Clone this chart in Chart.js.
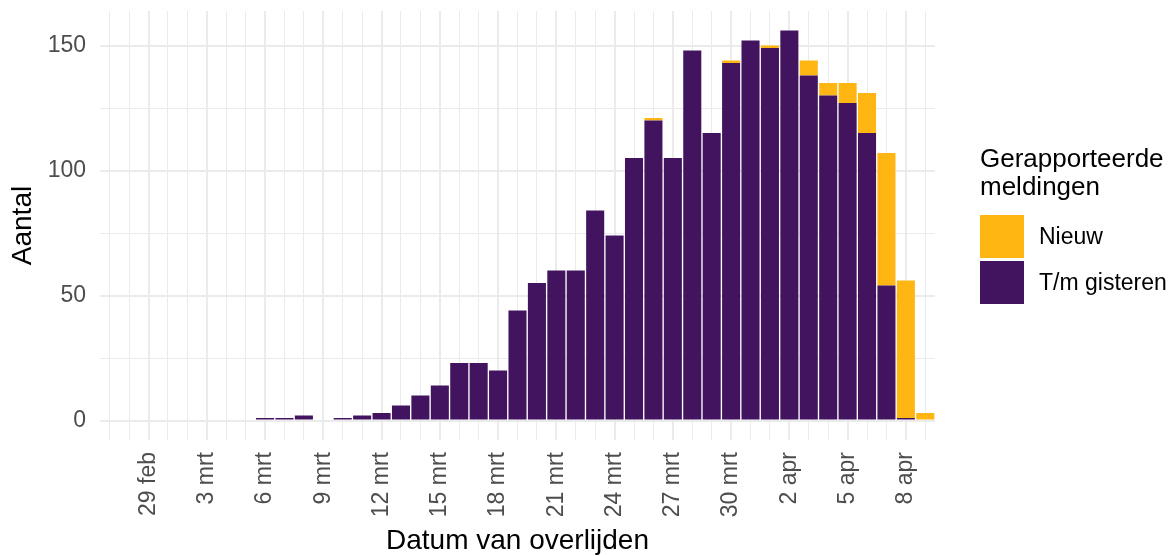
<!DOCTYPE html>
<html lang="nl">
<head>
<meta charset="utf-8">
<title>Overlijdens per dag</title>
<script src="https://cdn.jsdelivr.net/npm/chart.js@4"></script>
<style>
    body { margin: 0; background: #ffffff; }
    #wrap { position: relative; width: 1174px; height: 556px; font-family: "Liberation Sans", Arial, sans-serif; }
    #legend { position: absolute; left: 980px; top: 144px; color: #000000; }
    #legendTitle { font-size: 26px; line-height: 28px; }
    .legendRow { position: absolute; left: 0; width: 200px; height: 43px; display: flex; align-items: center; }
    .legendKey { width: 44px; height: 43px; margin-right: 15px; }
    .legendLabel { font-size: 23px; }
</style>
</head>
<body onload="handleOnLoad()">
<div id="wrap">
    <canvas id="chartCanvas" width="1174" height="556"></canvas>
    <div id="legend">
        <div id="legendTitle">Gerapporteerde<br>meldingen</div>
        <div class="legendRow" style="top: 71px;"><div class="legendKey" style="background: #ffb612;"></div><span class="legendLabel">Nieuw</span></div>
        <div class="legendRow" style="top: 117px;"><div class="legendKey" style="background: #42145f;"></div><span class="legendLabel">T/m gisteren</span></div>
    </div>
</div>
<script>
"use strict";

// Days from 27 feb to 9 apr 2020
const dates = [
    "27 feb", "28 feb", "29 feb", "1 mrt", "2 mrt", "3 mrt", "4 mrt", "5 mrt", "6 mrt", "7 mrt",
    "8 mrt", "9 mrt", "10 mrt", "11 mrt", "12 mrt", "13 mrt", "14 mrt", "15 mrt", "16 mrt", "17 mrt",
    "18 mrt", "19 mrt", "20 mrt", "21 mrt", "22 mrt", "23 mrt", "24 mrt", "25 mrt", "26 mrt", "27 mrt",
    "28 mrt", "29 mrt", "30 mrt", "31 mrt", "1 apr", "2 apr", "3 apr", "4 apr", "5 apr", "6 apr",
    "7 apr", "8 apr", "9 apr"
];

// Reported up to yesterday (bottom of the stack)
const tmGisteren = [
    0, 0, 0, 0, 0, 0, 0, 0, 1, 1,
    2, 0, 1, 2, 3, 6, 10, 14, 23, 23,
    20, 44, 55, 60, 60, 84, 74, 105, 120, 105,
    148, 115, 143, 152, 149, 156, 138, 130, 127, 115,
    54, 1, 0
];

// Newly reported today (top of the stack)
const nieuw = [
    0, 0, 0, 0, 0, 0, 0, 0, 0, 0,
    0, 0, 0, 0, 0, 0, 0, 0, 0, 0,
    0, 0, 0, 0, 0, 0, 0, 0, 1, 0,
    0, 0, 1, 0, 1, 0, 6, 5, 8, 16,
    53, 55, 3
];

// Only every third day gets a label
const tickLabels = ["29 feb", "3 mrt", "6 mrt", "9 mrt", "12 mrt", "15 mrt", "18 mrt", "21 mrt",
    "24 mrt", "27 mrt", "30 mrt", "2 apr", "5 apr", "8 apr"];

// Labelled y ticks and all y grid lines
const yTicks = [0, 50, 100, 150];
const yGrid = [0, 25, 50, 75, 100, 125, 150];

var chart;

function handleOnLoad() {
    Chart.defaults.font.family = '"Liberation Sans", Arial, sans-serif';

    let barData = {
        labels: dates,
        datasets: [{
            label: "T/m gisteren",
            data: tmGisteren,
            backgroundColor: "#42145f",
            borderWidth: 0,
            barPercentage: 0.93,
            categoryPercentage: 1.0
        },
        {
            label: "Nieuw",
            data: nieuw,
            backgroundColor: "#ffb612",
            borderWidth: 0,
            barPercentage: 0.93,
            categoryPercentage: 1.0
        }]
    };

    let config = {
        type: "bar",
        data: barData,
        options: {
            responsive: false,
            animation: false,
            layout: {padding: {left: 0, right: 239, top: 11, bottom: 0}},
            plugins: {
                legend: {display: false},
                tooltip: {enabled: false}
            },
            scales: {
                x: {
                    stacked: true,
                    offset: true,
                    border: {display: false},
                    grid: {
                        offset: false,
                        drawTicks: false,
                        color: "#ebebeb",
                        lineWidth: (c) => tickLabels.includes(dates[c.index]) ? 2 : 1
                    },
                    ticks: {
                        autoSkip: false,
                        minRotation: 90,
                        maxRotation: 90,
                        padding: 12,
                        color: "#4d4d4d",
                        font: {size: 23, lineHeight: 1},
                        callback: function (value, index) {
                            return tickLabels.includes(dates[index]) ? dates[index] : "";
                        }
                    },
                    title: {
                        display: true,
                        text: "Datum van overlijden",
                        color: "#000000",
                        font: {size: 28, lineHeight: 1},
                        padding: {top: 0, bottom: 1}
                    },
                    afterFit: function (scale) {
                        scale.height = 116;
                        scale.paddingLeft = 0;
                        scale.paddingRight = 0;
                    }
                },
                y: {
                    stacked: true,
                    min: -7.8,
                    max: 163.8,
                    border: {display: false},
                    grid: {
                        drawTicks: false,
                        color: "#ebebeb",
                        lineWidth: (c) => yTicks.includes(c.tick.value) ? 2 : 1
                    },
                    ticks: {
                        padding: 14,
                        color: "#4d4d4d",
                        font: {size: 23, lineHeight: 1},
                        callback: (value) => yTicks.includes(value) ? value : ""
                    },
                    afterBuildTicks: function (scale) {
                        scale.ticks = yGrid.map((v) => ({value: v}));
                    },
                    title: {
                        display: true,
                        text: "Aantal",
                        color: "#000000",
                        font: {size: 28, lineHeight: 1},
                        padding: {top: 9, bottom: 0}
                    },
                    afterFit: function (scale) {
                        scale.width = 100;
                        scale.paddingTop = 0;
                        scale.paddingBottom = 0;
                    }
                }
            }
        }
    };

    let ctx = document.getElementById("chartCanvas").getContext("2d");
    chart = new Chart(ctx, config);
}
</script>
</body>
</html>
